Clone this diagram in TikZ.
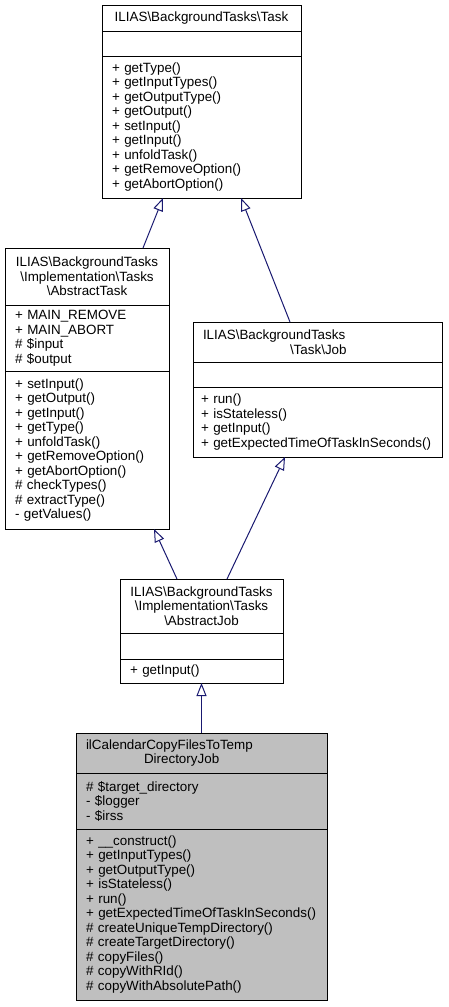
\documentclass[tikz,border=0pt]{standalone}
\usepackage{fontspec}
\setmainfont{Liberation Sans}
\usepackage{xcolor}
\usepackage{tikz}
\usetikzlibrary{positioning, arrows.meta}

\definecolor{azul}{HTML}{191970}
\definecolor{cinza}{HTML}{BFBFBF}
\newcommand{\barra}{\textbackslash{}}
\hyphenpenalty=10000
\exhyphenpenalty=10000

\begin{document}
\begin{tikzpicture}[
    x=1pt, y=-1pt,
    every node/.style={draw=black, line width=1pt, outer sep=0pt, inner ysep=0pt,
      inner xsep=10pt, font=\fontsize{13.4}{14.5}\selectfont}
  ]
  \tikzset{
    titulo/.style={align=center, minimum height=#1},
    membros/.style={align=left, minimum height=#1},
    heranca/.style={draw=azul, line width=1pt, -{Triangle[open, length=13pt, width=10pt]}}
  }
  \useasboundingbox (0,0) rectangle (448,1007);

  % Task
  \begin{scope}[every node/.append style={text width=179pt}]
    \node[titulo=26pt, anchor=north west] (task-t) at (102,5) {ILIAS\barra BackgroundTasks\barra Task};
    \node[membros=25pt, below=0pt of task-t] (task-a) {};
    \node[membros=142pt, below=0pt of task-a] (task-m) {+ getType()\\+ getInputTypes()\\+ getOutputType()\\+ getOutput()\\+ setInput()\\+ getInput()\\+ unfoldTask()\\+ getRemoveOption()\\+ getAbortOption()};
  \end{scope}

  % AbstractTask
  \begin{scope}[every node/.append style={text width=144pt}]
    \node[titulo=57pt, anchor=north west] (abst-t) at (5,248) {ILIAS\barra BackgroundTasks\\\barra Implementation\barra Tasks\\\barra AbstractTask};
    \node[membros=66pt, below=0pt of abst-t] (abst-a) {+ MAIN\_REMOVE\\+ MAIN\_ABORT\\\# \$input\\\# \$output};
    \node[membros=158pt, below=0pt of abst-a] (abst-m) {+ setInput()\\+ getOutput()\\+ getInput()\\+ getType()\\+ unfoldTask()\\+ getRemoveOption()\\+ getAbortOption()\\\# checkTypes()\\\# extractType()\\- getValues()};
  \end{scope}

  % Job
  \begin{scope}[every node/.append style={text width=233pt, inner xsep=8pt}]
    \node[titulo=40pt, align=left, anchor=north west] (job-t) at (193,322) {\hspace*{2pt}ILIAS\barra BackgroundTasks\\\hspace*{89pt}\barra Task\barra Job};
    \node[membros=25pt, below=0pt of job-t] (job-a) {};
    \node[membros=70pt, below=0pt of job-a] (job-m) {+ run()\\+ isStateless()\\+ getInput()\\+ getExpectedTimeOfTaskInSeconds()};
  \end{scope}

  % AbstractJob
  \begin{scope}[every node/.append style={text width=143pt}]
    \node[titulo=54pt, anchor=north west] (absj-t) at (120,579) {ILIAS\barra BackgroundTasks\\\barra Implementation\barra Tasks\\\barra AbstractJob};
    \node[membros=26pt, below=0pt of absj-t] (absj-a) {};
    \node[membros=24pt, below=0pt of absj-a] (absj-m) {+ getInput()};
  \end{scope}

  % ilCalendarCopyFilesToTempDirectoryJob
  \begin{scope}[every node/.append style={text width=231pt, fill=cinza}]
    \node[titulo=40pt, align=left, anchor=north west] (cal-t) at (76,733) {ilCalendarCopyFilesToTemp\\\hspace*{58pt}DirectoryJob};
    \node[membros=56pt, below=0pt of cal-t] (cal-a) {\# \$target\_directory\\- \$logger\\- \$irss};
    \node[membros=171pt, below=0pt of cal-a] (cal-m) {+ \_\_construct()\\+ getInputTypes()\\+ getOutputType()\\+ isStateless()\\+ run()\\+ getExpectedTimeOfTaskInSeconds()\\\# createUniqueTempDirectory()\\\# createTargetDirectory()\\\# copyFiles()\\\# copyWithRId()\\\# copyWithAbsolutePath()};
  \end{scope}

  \draw[heranca] ([xshift=56pt]abst-t.north) -- ([xshift=-38.5pt]task-m.south);
  \draw[heranca] ([xshift=-27.5pt]job-t.north) -- ([xshift=39.5pt]task-m.south);
  \draw[heranca] ([xshift=-24.5pt]absj-t.north) -- ([xshift=67pt]abst-m.south);
  \draw[heranca] ([xshift=25.5pt]absj-t.north) -- ([xshift=-32.5pt]job-m.south);
  \draw[heranca] (cal-t.north) -- (absj-m.south);
\end{tikzpicture}
\end{document}
